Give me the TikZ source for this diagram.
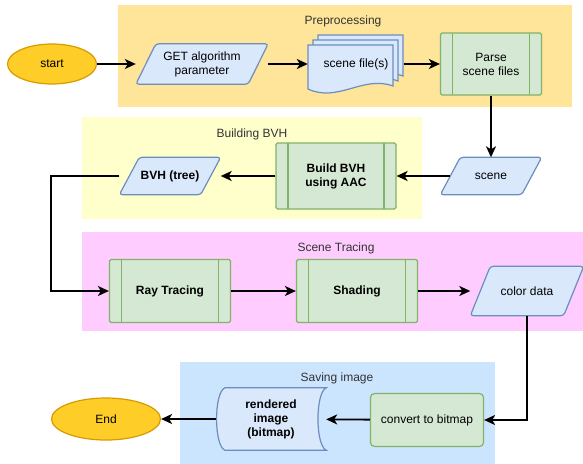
\documentclass[tikz,border=0pt]{standalone}
\usepackage{fontspec}
\setmainfont{Liberation Sans}
\usetikzlibrary{shapes.geometric, arrows.meta, backgrounds}
\definecolor{preband}{HTML}{FFE599}
\definecolor{bvhband}{HTML}{FFFFCC}
\definecolor{traceband}{HTML}{FFCCFF}
\definecolor{saveband}{HTML}{CCE5FF}
\definecolor{datafill}{HTML}{DAE8FC}
\definecolor{datadraw}{HTML}{6C8EBF}
\definecolor{procfill}{HTML}{D5E8D4}
\definecolor{procdraw}{HTML}{82B366}
\definecolor{termfill}{HTML}{FFCD28}
\definecolor{termdraw}{HTML}{D79B00}
\pgfdeclarelayer{bands}
\pgfsetlayers{bands,background,main}

\begin{document}
\begin{tikzpicture}[
    x=1pt, y=-1pt,
    every node/.style={font=\fontsize{12}{14}\selectfont, inner sep=0pt, align=center},
    heavy/.style={font=\fontsize{12}{14}\selectfont\bfseries},
    band/.style={rectangle, draw=none},
    bandlabel/.style={text=black!80},
    term/.style={ellipse, draw=termdraw, fill=termfill, line width=1.2pt},
    data/.style={rectangle},
    proc/.style={rectangle, draw=procdraw, fill=procfill, line width=1.2pt, rounded corners=1.5pt,
        path picture={\draw[procdraw, line width=1.2pt]
            ([xshift=12pt]path picture bounding box.north west) -- ([xshift=12pt]path picture bounding box.south west)
            ([xshift=-12pt]path picture bounding box.north east) -- ([xshift=-12pt]path picture bounding box.south east);}},
    task/.style={rectangle, draw=procdraw, fill=procfill, line width=1.2pt, rounded corners=4pt},
    sheet/.style={draw=datadraw, fill=datafill, line width=1.2pt},
    arrow/.style={-{Stealth[length=11pt, width=10pt, inset=3pt]}, line width=1.8pt}
]
    \useasboundingbox (0,0) rectangle (583,463);

    \node[term, minimum width=89pt, minimum height=40pt] (start) at (52,64) {start};
    \node[data, minimum width=132pt, minimum height=40pt] (param) at (202,64) {GET algorithm\\parameter};
    \node[minimum width=96pt, minimum height=58pt] (files) at (356,64) {scene file(s)};
    \node[proc, minimum width=101pt, minimum height=62pt] (parse) at (491,64) {Parse\\scene files};
    \node[data, minimum width=101pt, minimum height=37pt] (scene) at (491,176) {scene};
    \node[proc, heavy, minimum width=120pt, minimum height=66pt] (build) at (336,176) {Build BVH\\using AAC};
    \node[data, heavy, minimum width=101pt, minimum height=37pt] (bvh) at (170,176) {BVH (tree)};
    \node[proc, heavy, minimum width=121pt, minimum height=63pt] (ray) at (170,291) {Ray Tracing};
    \node[proc, heavy, minimum width=121pt, minimum height=63pt] (shading) at (357,291) {Shading};
    \node[data, minimum width=113pt, minimum height=49pt] (color) at (527,291) {color data};
    \node[task, minimum width=113pt, minimum height=53pt] (convert) at (427,420) {convert to bitmap};
    \node[heavy, minimum width=110pt, minimum height=62pt] (rendered) at (271,419) {rendered\\image\\(bitmap)};
    \node[term, minimum width=109pt, minimum height=42pt] (end) at (106,419) {End};

    \begin{scope}[on background layer]
        \foreach \n in {param, scene, bvh, color}
            \draw[sheet, rounded corners=3pt] ([xshift=20pt]\n.north west) -- (\n.north east)
                -- ([xshift=-20pt]\n.south east) -- (\n.south west) -- cycle;
        \foreach \dx in {10,5,0}
            \draw[sheet] (308+\dx,45-\dx) -- (393+\dx,45-\dx) -- (393+\dx,86-\dx)
                .. controls (363+\dx,75-\dx) and (338+\dx,103-\dx) .. (308+\dx,89-\dx) -- cycle;
        \draw[sheet] ([xshift=9pt]rendered.north west) -- (rendered.north east)
            .. controls ([xshift=-11pt, yshift=-5pt]rendered.north east) and ([xshift=-11pt, yshift=5pt]rendered.south east) .. (rendered.south east)
            -- ([xshift=9pt]rendered.south west)
            .. controls ([xshift=-2pt, yshift=5pt]rendered.south west) and ([xshift=-2pt, yshift=-5pt]rendered.north west) .. cycle;
    \end{scope}

    \begin{pgfonlayer}{bands}
        \node[band, fill=preband, minimum width=454pt, minimum height=102pt] (preproc) at (345,56) {};
        \node[band, fill=bvhband, minimum width=340pt, minimum height=102pt] (building) at (252,168) {};
        \node[band, fill=traceband, minimum width=503pt, minimum height=99pt] (tracing) at (333.5,281.5) {};
        \node[band, fill=saveband, minimum width=315pt, minimum height=103pt] (saving) at (337.5,413.5) {};
    \end{pgfonlayer}
    \node[bandlabel] (prelabel) at (343,21) {Preprocessing};
    \node[bandlabel] (buildlabel) at (252,134) {Building BVH};
    \node[bandlabel] (tracelabel) at (336,248) {Scene Tracing};
    \node[bandlabel] (savelabel) at (337,378) {Saving image};

    \draw[arrow] (start) -- (param);
    \draw[arrow] (param) -- (files);
    \draw[arrow] (files) -- (parse);
    \draw[arrow] (parse) -- (scene);
    \draw[arrow] ([xshift=10pt]scene.west) -- (build);
    \draw[arrow] (build) -- (bvh);
    \draw[arrow] (bvh) -- ++(-119,0) |- (ray);
    \draw[arrow] (ray) -- (shading);
    \draw[arrow] (shading) -- (color);
    \draw[arrow] (color) |- (convert);
    \draw[arrow] (convert) -- (rendered);
    \draw[arrow] (rendered) -- (end);
\end{tikzpicture}
\end{document}
